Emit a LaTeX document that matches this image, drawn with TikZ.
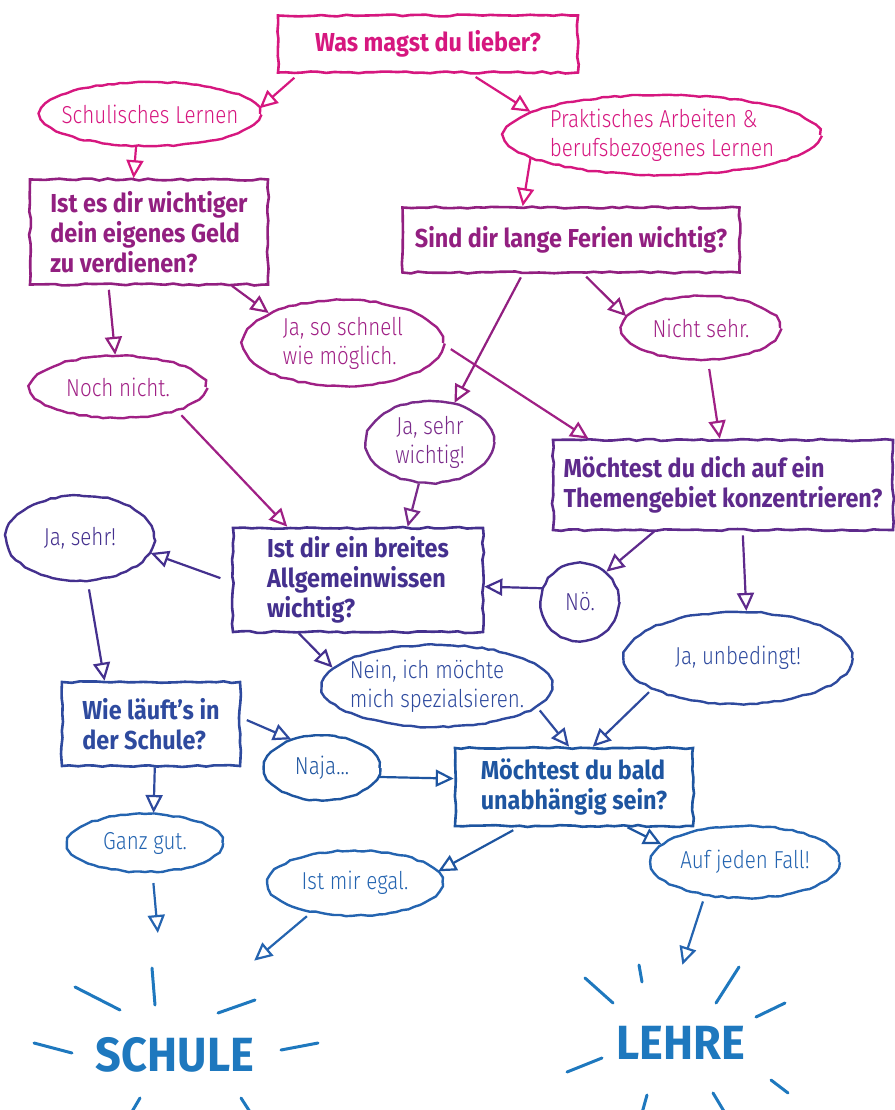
\documentclass[tikz,border=0pt]{standalone}
\usepackage{fontspec}
\setmainfont{Fira Sans}
\newfontfamily\qfam{Fira Sans}[FakeStretch=0.9]
\newfontfamily\afam{Fira Sans Light}[FakeStretch=0.84]
\newfontfamily\gfam{Fira Sans}[FakeStretch=0.94]
\usepackage{tikz}
\usetikzlibrary{shapes.geometric, arrows.meta, decorations.pathmorphing}

\newcommand{\qfont}{\qfam\bfseries\fontsize{26}{30}\selectfont}
\newcommand{\afont}{\afam\fontsize{24.5}{29}\selectfont}
\newcommand{\gfont}{\gfam\bfseries\fontsize{48}{50}\selectfont}

% colours, from top (pink) to bottom (blue)
\definecolor{lvlA}{HTML}{D6177F}
\definecolor{lvlB}{HTML}{921F80}
\definecolor{lvlC}{HTML}{A02085}
\definecolor{lvlD}{HTML}{7A2A8A}
\definecolor{lvlE}{HTML}{5E2A8C}
\definecolor{lvlF}{HTML}{44308E}
\definecolor{lvlG}{HTML}{2E4A9E}
\definecolor{lvlH}{HTML}{1E55A0}
\definecolor{lvlI}{HTML}{2464B0}
\definecolor{lvlJ}{HTML}{1E78BE}

\begin{document}
\pgfmathsetseed{7}
\begin{tikzpicture}[
    x=1pt, y=-1pt,
    qbox/.style={rectangle, draw, line width=2.6pt, decorate, decoration={random steps, segment length=8pt, amplitude=1pt}, font=\qfont, align=left, inner sep=0pt},
    abub/.style={ellipse, draw, line width=2.4pt, decorate, decoration={random steps, segment length=6pt, amplitude=0.8pt}, font=\afont, align=center, inner xsep=-30pt, inner ysep=-12pt},
    arr/.style={-{Triangle[open, length=18pt, width=17pt]}, line width=2.2pt},
    ray/.style={line width=3pt, line cap=round},
    goal/.style={circle, font=\gfont, inner sep=0pt}
]
\useasboundingbox (0,0) rectangle (894,1110);

% questions
\node[qbox, lvlA, minimum width=300pt, minimum height=57pt] (q1) at (428,44) {Was magst du lieber?};
\node[qbox, lvlB, minimum width=238pt, minimum height=105pt] (qgeld) at (149,232) {Ist es dir wichtiger\\dein eigenes Geld\\zu verdienen?};
\node[qbox, lvlB, minimum width=337pt, minimum height=65pt] (qferien) at (571,240) {Sind dir lange Ferien wichtig?};
\node[qbox, lvlE, minimum width=340pt, minimum height=90pt] (qthema) at (723,485) {Möchtest du dich auf ein\\Themengebiet konzentrieren?};
\node[qbox, lvlF, minimum width=250pt, minimum height=104pt] (qwissen) at (358,580) {Ist dir ein breites\\Allgemeinwissen\\wichtig?};
\node[qbox, lvlG, minimum width=178pt, minimum height=84pt] (qschule) at (151,724) {Wie läuft’s in\\der Schule?};
\node[qbox, lvlH, minimum width=238pt, minimum height=78pt] (qbald) at (574,787) {Möchtest du bald\\unabhängig sein?};

% answers
\node[abub, lvlA, minimum width=220pt, minimum height=64pt] (aschul) at (150,114) {Schulisches Lernen};
\node[abub, lvlA, minimum width=316pt, minimum height=80pt, align=left] (aprakt) at (662,135) {Praktisches Arbeiten \&\\berufsbezogenes Lernen};
\node[abub, lvlC, minimum width=200pt, minimum height=86pt, align=left] (aschnell) at (343,343) {Ja, so schnell\\wie möglich.};
\node[abub, lvlC, minimum width=158pt, minimum height=64pt] (anicht) at (701,328) {Nicht sehr.};
\node[abub, lvlC, minimum width=175pt, minimum height=62pt] (anoch) at (118,387) {Noch nicht.};
\node[abub, lvlD, minimum width=128pt, minimum height=82pt] (asehrw) at (430,442) {Ja, sehr\\wichtig!};
\node[abub, lvlF, minimum width=148pt, minimum height=85pt] (ajasehr) at (80,538) {Ja, sehr!};
\node[abub, lvlF, minimum width=78pt, minimum height=78pt] (anoe) at (580,602) {Nö.};
\node[abub, lvlG, minimum width=228pt, minimum height=92pt] (aunbed) at (738,658) {Ja, unbedingt!};
\node[abub, lvlG, minimum width=230pt, minimum height=82pt, align=left] (anein) at (437,686) {Nein, ich möchte\\mich spezialsieren.};
\node[abub, lvlH, minimum width=115pt, minimum height=65pt] (anaja) at (322,768) {Naja...};
\node[abub, lvlI, minimum width=155pt, minimum height=58pt] (aganz) at (145,843) {Ganz gut.};
\node[abub, lvlI, minimum width=175pt, minimum height=65pt] (aegal) at (355,883) {Ist mir egal.};
\node[abub, lvlI, minimum width=188pt, minimum height=72pt] (afall) at (745,862) {Auf jeden Fall!};

% results
\node[goal, lvlJ, minimum size=246pt] (schule) at (175,1055) {SCHULE};
\node[goal, lvlJ, minimum size=156pt] (lehre) at (681,1043) {LEHRE};

% rays
\foreach \ax/\ay/\bx/\by in {-23/-87/-20/-50, -100/-68/-55/-45, 43/-42/80/-55, -141/-12/-103/-2, 106/-5/143/-12, -35/43/-45/60, 66/43/77/60}
  \draw[ray, lvlJ] ([shift={(\ax,\ay)}]schule.center) -- ([shift={(\bx,\by)}]schule.center);
\foreach \ax/\ay/\bx/\by in {-42/-78/-39/-61, -96/-65/-68/-40, 58/-76/35/-40, 104/-40/75/-26, -114/29/-79/15, 90/37/107/50, -34/52/-39/70, 32/50/44/70}
  \draw[ray, lvlJ] ([shift={(\ax,\ay)}]lehre.center) -- ([shift={(\bx,\by)}]lehre.center);

% arrows
\draw[arr, lvlA, shorten <=6pt] (q1.193) -- (aschul.3);
\draw[arr, lvlA, shorten <=6pt] (q1.-35) -- (aprakt.170);
\draw[arr, lvlA] (aschul.-113) -- (qgeld.106);
\draw[arr, lvlA] (aprakt.190) -- (qferien.145);
\draw[arr, lvlB] (qgeld.-33) -- (aschnell.158);
\draw[arr, lvlB, shorten <=4pt] (qgeld.-127) -- (anoch.95);
\draw[arr, lvlB, shorten <=4pt] (qferien.-70) -- (anicht.171);
\draw[arr, lvlB, shorten <=4pt] (qferien.-145) -- (asehrw.58);
\draw[arr, lvlC, shorten <=8pt] (aschnell.-1) -- (qthema.161);
\draw[arr, lvlC, shorten <=8pt] (anicht.-78) -- (qthema.94);
\draw[arr, lvlC, shorten <=6pt] (anoch.-22) -- (qwissen.143);
\draw[arr, lvlD] (asehrw.-105) -- (qwissen.47);
\draw[arr, lvlE] (qthema.-146) -- (anoe.49);
\draw[arr, lvlE, shorten <=4pt] (qthema.-67) -- (aunbed.80);
\draw[arr, lvlF] (anoe.160) -- (qwissen.-3);
\draw[arr, lvlF, shorten <=12pt] (qwissen.181) -- (ajasehr.-12);
\draw[arr, lvlF, shorten <=8pt] (ajasehr.-80) -- (qschule.137);
\draw[arr, lvlF] (qwissen.-138) -- (anein.170);
\draw[arr, lvlG, shorten <=4pt] (anein.-12) -- (qbald.97);
\draw[arr, lvlG, shorten <=4pt] (aunbed.-160) -- (qbald.65);
\draw[arr, lvlG, shorten <=6pt] (qschule.4) -- (anaja.137);
\draw[arr, lvlH] (anaja.-9) -- (qbald.176);
\draw[arr, lvlG] (qschule.-85) -- (aganz.74);
\draw[arr, lvlH, shorten <=6pt] (qbald.-144) -- (aegal.8);
\draw[arr, lvlH] (qbald.-37) -- (afall.168);
\draw[arr, lvlI, shorten <=10pt] (aganz.-76) -- (schule.98);
\draw[arr, lvlI, shorten <=6pt] (aegal.-146) -- (schule.50);
\draw[arr, lvlI, shorten <=6pt] (afall.-140) -- (lehre.89);

\end{tikzpicture}
\end{document}
